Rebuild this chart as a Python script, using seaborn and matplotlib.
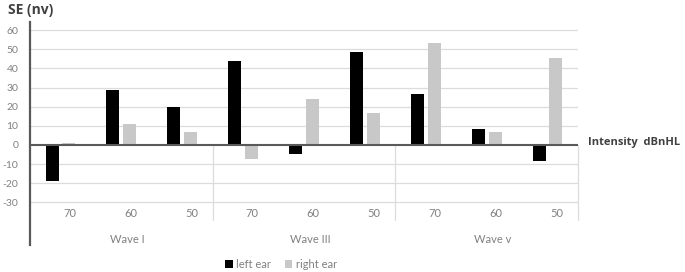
import matplotlib
matplotlib.use("Agg")
import matplotlib.pyplot as plt
import matplotlib.transforms as mtransforms
import seaborn as sns
import pandas as pd

# ---- data ----
waves = ["Wave I", "Wave III", "Wave v"]
intensities = ["70", "60", "50"]
left_ear = [-19, 28.5, 20, 44, -4.5, 48.5, 26.5, 8.5, -8.5]
right_ear = [1.2, 11, 7, -7.5, 24, 16.5, 53, 7, 45.5]
series_names = ["left ear", "right ear"]
y_ticks = [-30, -20, -10, 0, 10, 20, 30, 40, 50, 60]

cats = [f"{w}|{i}" for w in waves for i in intensities]
df = pd.DataFrame({
    "cat": cats * 2,
    "ear": [series_names[0]] * len(cats) + [series_names[1]] * len(cats),
    "value": left_ear + right_ear,
})

sns.set_style("white")
plt.rcParams["font.family"] = ["Lato", "DejaVu Sans"]

fig = plt.figure(figsize=(6.85, 2.72), dpi=100)
ax = fig.add_axes([30 / 685, 1 - 245 / 272, 548 / 685, 223 / 272])

palette = {series_names[0]: "#000000", series_names[1]: "#c8c8c8"}
sns.barplot(data=df, x="cat", y="value", hue="ear", order=cats,
            hue_order=series_names, palette=palette, width=0.55, gap=0.22,
            linewidth=0, saturation=1, ax=ax, zorder=3)

ax.set_xlim(-0.5, len(cats) - 0.5)
ax.set_ylim(-52.2, 64.2)
ax.set_yticks(y_ticks)
ax.set_yticklabels([str(t) for t in y_ticks])
ax.tick_params(axis="y", length=0, pad=8.5, labelsize=7.5, labelcolor="#808080")
ax.set_xticks([])
ax.set_xlabel("")
ax.set_ylabel("")

# gridlines only for the value range
for t in y_ticks:
    if t != 0:
        ax.axhline(t, color="#dcdcdc", lw=0.9, zorder=1)
ax.axhline(0, color="#595959", lw=1.5, zorder=4)

for s in ["top", "right", "bottom"]:
    ax.spines[s].set_visible(False)
ax.spines["left"].set_color("#595959")
ax.spines["left"].set_linewidth(1.6)

# category labels
for k, c in enumerate(cats):
    ax.text(k + 0.15, -35.5, c.split("|")[1], ha="center", va="center",
            fontsize=8, color="#808080")
# group labels and separators
n = len(intensities)
for g, w in enumerate(waves):
    center = g * n + (n - 1) / 2
    ax.text(center + 0.1, -49.5, w, ha="center", va="center",
            fontsize=8, color="#808080")
    xsep = g * n + n - 0.5
    ax.plot([xsep, xsep], [0, -39], color="#dcdcdc", lw=0.9, zorder=1,
            clip_on=False)

# axis titles
fig.text(8 / 685, 1 - 10 / 272, "SE (nv)", ha="left", va="center",
         fontsize=10, fontweight="bold", color="#404040",
         family=["Open Sans", "DejaVu Sans"])
fig.text(588 / 685, 1 - 143 / 272, "Intensity  dBnHL", ha="left", va="center",
         fontsize=8, fontweight="bold", color="#404040",
         family=["Open Sans", "DejaVu Sans"])

# legend
handles, labels = ax.get_legend_handles_labels()
ax.legend(handles, labels, ncol=2, frameon=False, loc="center",
          bbox_to_anchor=(281 / 685, 1 - 264 / 272),
          bbox_transform=fig.transFigure, handlelength=0.7,
          handleheight=0.7, handletextpad=0.3, columnspacing=1.2,
          fontsize=8, labelcolor="#808080")

fig.savefig("out.png", dpi=100)
